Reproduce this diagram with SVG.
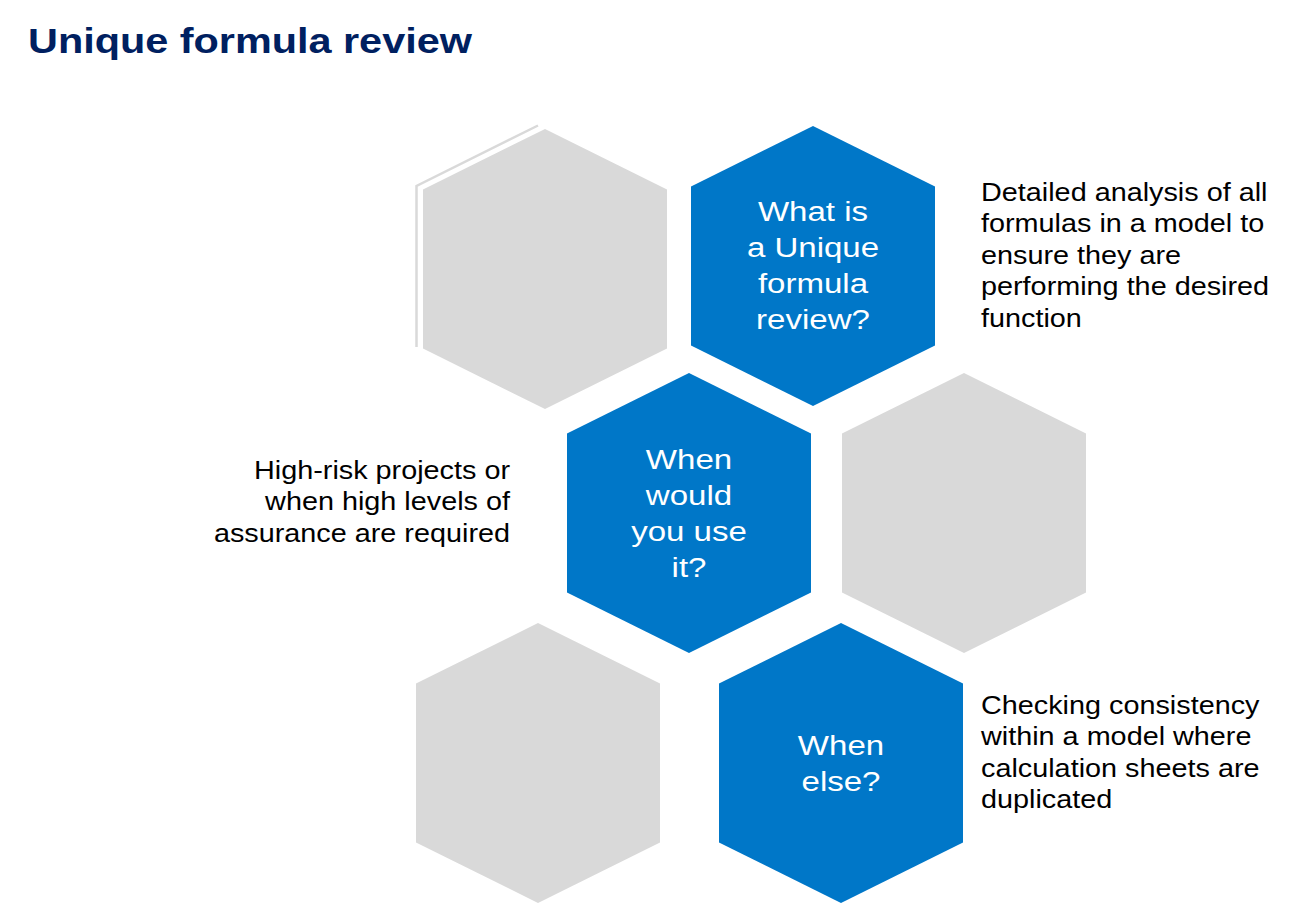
<svg xmlns="http://www.w3.org/2000/svg" xmlns:xlink="http://www.w3.org/1999/xlink" width="1306" height="908" viewBox="0 0 1306 908">
  <style>
    .blue { fill: #0077c8; }
    .gray { fill: #d9d9d9; }
    .title { font-family: "Liberation Sans", Arial, sans-serif; font-weight: bold; font-size: 36px; fill: #002060; }
    .hex-label { font-family: "Liberation Sans", Arial, sans-serif; font-size: 28px; fill: #ffffff; text-anchor: middle; }
    .note { font-family: "Liberation Sans", Arial, sans-serif; font-size: 25.5px; fill: #000000; }
    .note-right { text-anchor: end; }
  </style>
  <defs>
    <!-- pointy-top hexagon centred on the origin -->
    <polygon id="hex" points="0,-140 122,-79.5 122,79.5 0,140 -122,79.5 -122,-79.5"/>
  </defs>

  <rect width="1306" height="908" fill="#ffffff"/>

  <g id="title">
    <text class="title" transform="translate(28,53) scale(1.15,1)">Unique formula review</text>
  </g>

  <g id="hex-top-left">
    <use xlink:href="#hex" href="#hex" x="545" y="269" class="gray"/>
    <polyline points="416.5,347 416.5,186 538,125.5" fill="none" stroke="#d9d9d9" stroke-width="2.5"/>
  </g>

  <g id="hex-what-is">
    <use xlink:href="#hex" href="#hex" x="813" y="266" class="blue"/>
    <g transform="translate(813,0) scale(1.18,1)">
      <text class="hex-label" x="0" y="221">What is</text>
      <text class="hex-label" x="0" y="257">a Unique</text>
      <text class="hex-label" x="0" y="293">formula</text>
      <text class="hex-label" x="0" y="329">review?</text>
    </g>
  </g>

  <g id="note-what-is">
    <g transform="translate(981,0) scale(1.13,1)">
      <text class="note" x="0" y="201">Detailed analysis of all</text>
      <text class="note" x="0" y="232.5">formulas in a model to</text>
      <text class="note" x="0" y="264">ensure they are</text>
      <text class="note" x="0" y="295.5">performing the desired</text>
      <text class="note" x="0" y="327">function</text>
    </g>
  </g>

  <g id="hex-when">
    <use xlink:href="#hex" href="#hex" x="689" y="513" class="blue"/>
    <g transform="translate(689,0) scale(1.18,1)">
      <text class="hex-label" x="0" y="469">When</text>
      <text class="hex-label" x="0" y="505">would</text>
      <text class="hex-label" x="0" y="541">you use</text>
      <text class="hex-label" x="0" y="577">it?</text>
    </g>
  </g>

  <g id="note-when">
    <g transform="translate(510,0) scale(1.13,1)">
      <text class="note note-right" x="0" y="479">High-risk projects or</text>
      <text class="note note-right" x="0" y="510.5">when high levels of</text>
      <text class="note note-right" x="0" y="542">assurance are required</text>
    </g>
  </g>

  <g id="hex-middle-right">
    <use xlink:href="#hex" href="#hex" x="964" y="513" class="gray"/>
  </g>

  <g id="hex-bottom-left">
    <use xlink:href="#hex" href="#hex" x="538" y="763" class="gray"/>
  </g>

  <g id="hex-when-else">
    <use xlink:href="#hex" href="#hex" x="841" y="763" class="blue"/>
    <g transform="translate(841,0) scale(1.18,1)">
      <text class="hex-label" x="0" y="755">When</text>
      <text class="hex-label" x="0" y="791">else?</text>
    </g>
  </g>

  <g id="note-when-else">
    <g transform="translate(981,0) scale(1.13,1)">
      <text class="note" x="0" y="714">Checking consistency</text>
      <text class="note" x="0" y="745.5">within a model where</text>
      <text class="note" x="0" y="777">calculation sheets are</text>
      <text class="note" x="0" y="808.5">duplicated</text>
    </g>
  </g>
</svg>
